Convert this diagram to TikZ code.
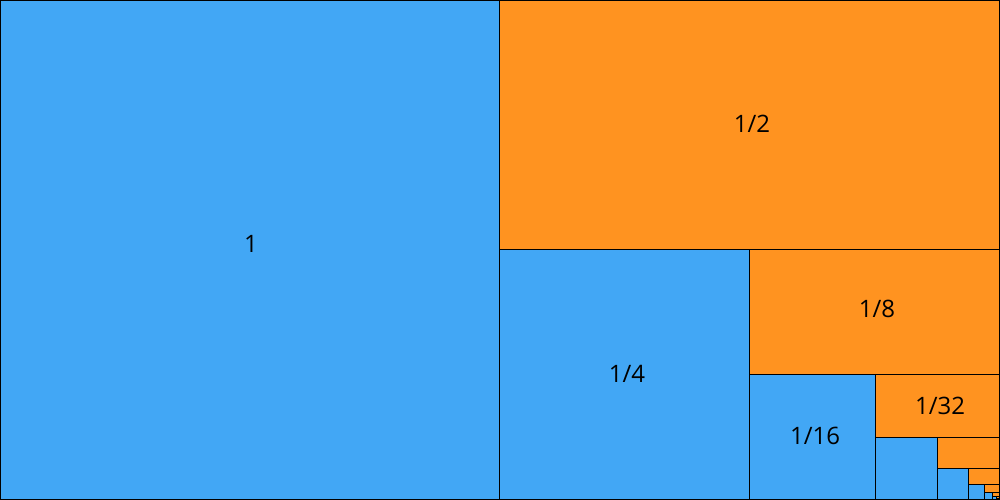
\documentclass[tikz,border=0pt]{standalone}
\usepackage{fontspec}
\setmainfont{Open Sans}
\definecolor{cblue}{HTML}{42A7F5}
\definecolor{corange}{HTML}{FF9320}
\tikzset{
  cell/.style={draw=black, line width=1pt},
  bluecell/.style={cell, fill=cblue},
  orangecell/.style={cell, fill=corange},
  lbl/.style={font=\fontsize{24}{28}\selectfont, text=black, inner sep=0pt}
}
\begin{document}
\begin{tikzpicture}[x=1pt,y=1pt]
\useasboundingbox (0,0) rectangle (1000,500);
\draw[bluecell] (0,0) rectangle (499.5,500);
\draw[orangecell] (499.5,250) rectangle (1000,500);
\draw[bluecell] (499.5,0) rectangle (749.5,250);
\draw[orangecell] (749.5,125) rectangle (1000,250);
\draw[bluecell] (749.5,0) rectangle (875,125);
\draw[orangecell] (875,62.5) rectangle (1000,125);
\draw[bluecell] (875,0) rectangle (937.5,62.5);
\draw[orangecell] (937.5,31.25) rectangle (1000,62.5);
\draw[bluecell] (937.5,0) rectangle (968.75,31.25);
\draw[orangecell] (968.75,15.625) rectangle (1000,31.25);
\draw[bluecell] (968.75,0) rectangle (984.375,15.625);
\draw[orangecell] (984.375,7.8125) rectangle (1000,15.625);
\draw[bluecell] (984.375,0) rectangle (992.1875,7.8125);
\draw[orangecell] (992.1875,3.90625) rectangle (1000,7.8125);
\draw[bluecell] (992.1875,0) rectangle (996.09375,3.90625);
\draw[orangecell] (996.09375,1.953) rectangle (1000,3.90625);
\node[lbl] (n1) at (251,256) {1};
\node[lbl] (n2) at (752,376) {1/2};
\node[lbl] (n4) at (627,126) {1/4};
\node[lbl] (n8) at (877,191) {1/8};
\node[lbl] (n16) at (815,64) {1/16};
\node[lbl] (n32) at (940,94) {1/32};
\draw[line width=1pt] (0.5,0.5) rectangle (999.5,499.5);
\end{tikzpicture}
\end{document}
